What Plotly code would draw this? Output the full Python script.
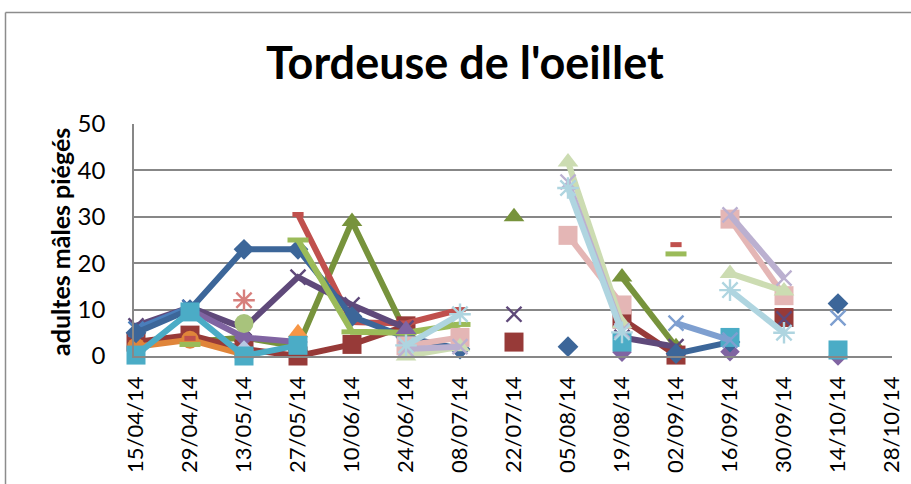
import plotly.graph_objects as go

N = None
dates = ["15/04/14", "29/04/14", "13/05/14", "27/05/14", "10/06/14", "24/06/14", "08/07/14",
         "22/07/14", "05/08/14", "19/08/14", "02/09/14", "16/09/14", "30/09/14", "14/10/14", "28/10/14"]
y_ticks = [0, 10, 20, 30, 40, 50]

olive_tri     = [N, 3, 4, 2, 29, 5, N, 30, N, 17, 2, N, N, N, N]
darkred_sq    = [3, 4.5, 1.5, 0, 2.5, 6.5, N, 3, N, 8, 0.2, N, 8.3, N, N]
orange_circ   = [2, 3.5, 0.3, N, N, N, N, N, N, N, N, N, N, N, N]
red_dash      = [N, 3.8, N, 30.5, 7.3, 7, 10, N, N, N, 24, N, N, N, N]
darkpurple_x  = [6.5, 10.5, 6, 17, 11, 6, N, 9, N, 4, 2, N, 8, N, N]
purple_diam   = [N, 10, 4, 3, N, N, N, N, N, 0.8, N, 0.9, N, 0, N]
blue_x        = [5.8, 10.5, N, N, N, N, N, N, N, N, N, N, N, N, N]
darkblue_diam = [5, 10, 23, 23, 8.5, 4, 1.5, N, 2, N, 0.5, 3, N, 11.3, N]
green_dash    = [N, 2.5, N, 25, 5.2, 5, 6.8, N, N, N, 22, N, N, N, N]
greenl_circ   = [N, N, 7, N, N, N, N, N, N, N, N, N, N, N, N]
pink_ast      = [N, N, 12, N, N, N, N, N, N, N, N, N, N, N, N]
light_diam    = [N, N, 1.3, N, N, N, N, N, N, N, N, N, N, N, N]
orange_tri    = [N, N, N, 5, N, N, N, N, N, N, N, N, N, N, N]
purple_tri    = [N, N, N, N, N, 5.7, N, N, N, N, N, N, N, N, N]
aqua_sq       = [0.2, 9.5, 0, 2.3, N, N, N, N, N, 3, N, 4, N, 1.3, N]
lblue_x       = [N, N, N, N, N, N, N, N, N, N, 7.1, 3.4, N, 8.2, N]
lpink_sq      = [N, N, N, N, N, 2.2, 4, N, 26, 11, N, 29.5, 13, N, N]
lgreen_tri    = [N, N, N, N, N, 0, 2, N, 41.8, 7, N, 17.8, 14, N, N]
lpurple_x     = [N, N, N, N, N, 1.5, 2, N, 37.5, 5.5, N, 30.4, 16.8, N, N]
lblue_ast     = [N, N, N, N, N, 2.3, 9, N, 36.2, 5.1, N, 14.2, 5, N, N]

W, H = 911, 484
L, R, T, B = 134, 19, 124, 128
PW, PH = W - L - R, H - T - B


def px_x(px):
    return (px - L) / PW


def px_y(py):
    return (H - B - py) / PH


fig = go.Figure()


def add(vals, color, symbol, size, lw=6, open_=False, mlw=2):
    marker = dict(symbol=symbol, size=size, color=color)
    if open_:
        marker["line"] = dict(color=color, width=mlw)
    else:
        marker["line"] = dict(width=0)
    fig.add_trace(go.Scatter(
        x=dates, y=vals, mode="lines+markers",
        line=dict(color=color, width=lw),
        marker=marker, connectgaps=False, cliponaxis=False,
        showlegend=False, hoverinfo="skip"))


add(olive_tri, "#77933C", "triangle-up", 18)
add(darkred_sq, "#973A38", "square", 19)
add(orange_circ, "#E0853A", "circle", 18)
add(red_dash, "#C0504D", "line-ew", 8, open_=True, mlw=5)
add(darkpurple_x, "#5F497A", "x-thin", 15, open_=True, mlw=2.4)
add(purple_diam, "#8064A2", "diamond", 15)
add(blue_x, "#4A7EBB", "x-thin", 15, open_=True, mlw=2.4)
add(darkblue_diam, "#3C6699", "diamond", 16)
add(green_dash, "#9BBB59", "line-ew", 15, open_=True, mlw=5)
add(greenl_circ, "#A8C37C", "circle", 19)
add(pink_ast, "#D77F7C", "asterisk", 18, open_=True, mlw=2.4)
add(light_diam, "#B8C8E3", "diamond", 15)
add(orange_tri, "#F79646", "triangle-up", 18)
add(purple_tri, "#8064A2", "triangle-up", 18)
add(aqua_sq, "#4BACC6", "square", 19)
add(lblue_x, "#7E9FD0", "x-thin", 15, open_=True, mlw=2.4)
add(lpink_sq, "#E4B6B5", "square", 19)
add(lgreen_tri, "#CCDCB2", "triangle-up", 18)
add(lpurple_x, "#BBB0D0", "x-thin", 15, open_=True, mlw=2.4)
add(lblue_ast, "#AFD5E0", "asterisk", 18, open_=True, mlw=2.4)

GRID = "#878787"
fig.update_layout(
    width=W, height=H,
    margin=dict(l=L, r=R, t=T, b=B, autoexpand=False),
    paper_bgcolor="white", plot_bgcolor="white",
    font=dict(family="Lato", color="black"),
    xaxis=dict(type="category", range=[-2 / 54, 14], showgrid=False, automargin=False,
               showline=True, linecolor=GRID, linewidth=1.5,
               tickangle=-90, tickfont=dict(size=22, family="Lato"),
               ticks="", ticklabelstandoff=10),
    yaxis=dict(range=[0, 50], tickvals=y_ticks, showgrid=True, gridcolor=GRID, gridwidth=1.5,
               automargin=False,
               zeroline=True, zerolinecolor=GRID, zerolinewidth=1.5,
               showline=True, linecolor=GRID, linewidth=1.5,
               tickfont=dict(size=24, family="Lato"), ticks="", ticklabelstandoff=22),
    annotations=[
        dict(text="<b>Tordeuse de l'oeillet</b>", xref="paper", yref="paper",
             x=px_x(465), y=px_y(62), xanchor="center", yanchor="middle",
             showarrow=False, font=dict(size=45, family="Lato", color="black")),
        dict(text="<b>adultes mâles piégés</b>", xref="paper", yref="paper",
             x=px_x(60), y=px_y(242), xanchor="center", yanchor="middle", textangle=-90,
             showarrow=False, font=dict(size=25, family="Lato", color="black")),
    ],
    shapes=[
        dict(type="line", xref="paper", yref="paper", x0=px_x(5.5), x1=px_x(5.5),
             y0=px_y(12.5), y1=px_y(490), line=dict(color="#8C8C8C", width=1.5)),
        dict(type="line", xref="paper", yref="paper", x0=px_x(5.5), x1=px_x(915),
             y0=px_y(12.5), y1=px_y(12.5), line=dict(color="#8C8C8C", width=1.5)),
    ],
)

fig.write_html("out.html", config={"displayModeBar": False},
               post_script="document.body.style.margin='0';")
